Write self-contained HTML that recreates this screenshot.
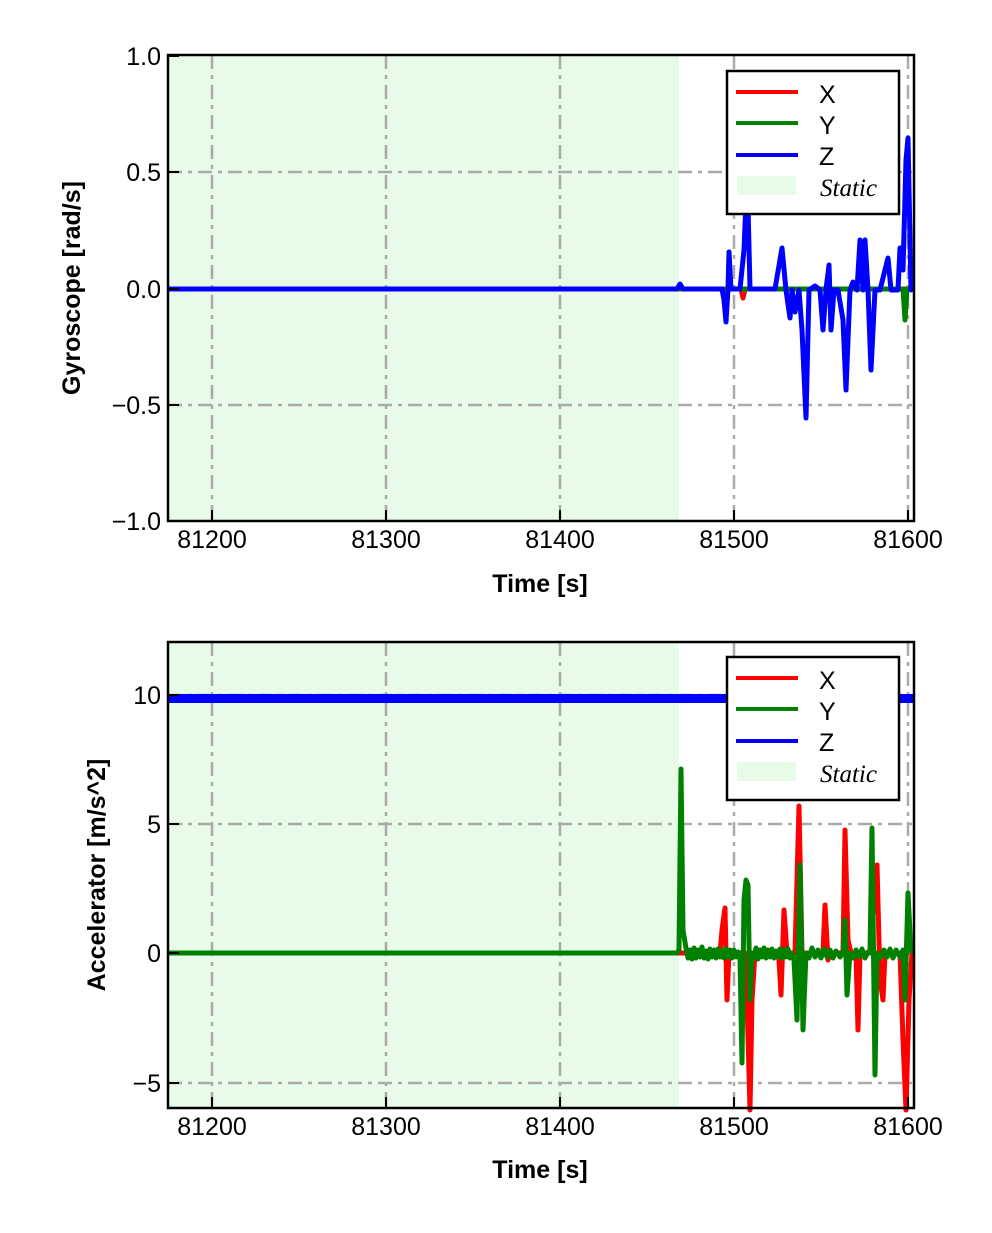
<!DOCTYPE html>
<html><head><meta charset="utf-8"><style>
body{margin:0;background:#fff}
svg text{font-family:"Liberation Sans",sans-serif}
</style></head><body>
<svg width="992" height="1228" viewBox="0 0 992 1228" xmlns="http://www.w3.org/2000/svg">
<!-- ===== TOP PLOT ===== -->
<rect x="168" y="55" width="511" height="466" fill="#e8fbe8"/>
<g stroke="#aaa" stroke-width="2.5" stroke-dasharray="14,6,4,6" fill="none">
<line x1="212" y1="55" x2="212" y2="521"/><line x1="386" y1="55" x2="386" y2="521"/>
<line x1="560" y1="55" x2="560" y2="521"/><line x1="734" y1="55" x2="734" y2="521"/>
<line x1="908" y1="55" x2="908" y2="521"/>
<line x1="168" y1="172" x2="914" y2="172"/><line x1="168" y1="289" x2="914" y2="289"/>
<line x1="168" y1="405" x2="914" y2="405"/>
</g>
<g fill="none" stroke-width="5" stroke-linejoin="round">
<polyline stroke="#f00" points="168,289 741,289 743,298 745,289 914,289"/>
<polyline stroke="#008000" points="168,289 826,289 828,275 830,289 903,289 905,320 907,289 914,289"/>
<polyline stroke="#00f" points="168,289 677,289 680,284 683,289 722,289 724,300 726,322 728,289 729,252 731,289 740,289 744,250 746,200 748,205 750,289 775,289 782,248 786,290 790,318 792,290 795,312 799,290 802,330 806,418 809,290 815,286 820,290 823,330 826,290 829,265 831,330 834,290 838,290 843,320 846,390 850,290 853,282 857,290 860,240 863,290 865,240 868,290 871,370 875,290 880,290 888,258 891,290 898,290 900,248 903,270 906,160 908,138 911,290 914,289"/>
</g>
<rect x="168" y="55" width="746" height="466" fill="none" stroke="#000" stroke-width="2.5"/>
<g stroke="#000" stroke-width="2">
<line x1="212" y1="521" x2="212" y2="510"/><line x1="386" y1="521" x2="386" y2="510"/><line x1="560" y1="521" x2="560" y2="510"/><line x1="734" y1="521" x2="734" y2="510"/><line x1="908" y1="521" x2="908" y2="510"/>
<line x1="168" y1="56" x2="179" y2="56"/><line x1="168" y1="172" x2="179" y2="172"/><line x1="168" y1="289" x2="179" y2="289"/><line x1="168" y1="405" x2="179" y2="405"/><line x1="168" y1="521" x2="179" y2="521"/>
</g>
<g font-size="25" text-anchor="end">
<text x="161" y="65">1.0</text><text x="161" y="181">0.5</text><text x="161" y="298">0.0</text><text x="161" y="414">−0.5</text><text x="161" y="530">−1.0</text>
</g>
<g font-size="25" text-anchor="middle">
<text x="212" y="548">81200</text><text x="386" y="548">81300</text><text x="560" y="548">81400</text><text x="734" y="548">81500</text><text x="908" y="548">81600</text>
</g>
<text x="540" y="592" font-size="25" font-weight="bold" text-anchor="middle">Time [s]</text>
<text transform="translate(80,288) rotate(-90)" font-size="25" font-weight="bold" text-anchor="middle">Gyroscope [rad/s]</text>
<rect x="727" y="71" width="172" height="143" fill="#fff" stroke="#000" stroke-width="2.5"/>
<line x1="736" y1="92" x2="798" y2="92" stroke="#f00" stroke-width="4"/>
<line x1="736" y1="123" x2="798" y2="123" stroke="#008000" stroke-width="4"/>
<line x1="736" y1="155" x2="798" y2="155" stroke="#00f" stroke-width="4"/>
<rect x="737" y="176" width="59" height="19" fill="#e8fbe8"/>
<g font-size="25"><text x="819" y="103">X</text><text x="819" y="134">Y</text><text x="819" y="165">Z</text></g>
<text x="820" y="196" font-size="25" font-style="italic" style="font-family:'Liberation Serif',serif">Static</text>

<!-- ===== BOTTOM PLOT ===== -->
<rect x="168" y="642" width="511" height="466" fill="#e8fbe8"/>
<g stroke="#aaa" stroke-width="2.5" stroke-dasharray="14,6,4,6" fill="none">
<line x1="212" y1="642" x2="212" y2="1108"/><line x1="386" y1="642" x2="386" y2="1108"/>
<line x1="560" y1="642" x2="560" y2="1108"/><line x1="734" y1="642" x2="734" y2="1108"/>
<line x1="908" y1="642" x2="908" y2="1108"/>
<line x1="168" y1="695" x2="914" y2="695"/><line x1="168" y1="824" x2="914" y2="824"/>
<line x1="168" y1="953" x2="914" y2="953"/><line x1="168" y1="1083" x2="914" y2="1083"/>
</g>
<g fill="none" stroke-width="5" stroke-linejoin="round">
<rect x="168" y="694" width="746" height="9" fill="#00f" stroke="none"/>
<polyline stroke="#f00" points="168,953 720,953 722,930 725,908 727,1000 729,953 745,953 747,1000 750,1110 752,1000 755,953 777,953 779,960 781,995 784,910 787,953 795,953 799,806 802,953 823,953 825,905 828,960 830,953 843,953 845,830 848,940 851,953 856,953 858,1030 860,953 870,953 877,865 880,980 883,1000 885,953 900,953 903,1040 906,1110 909,1000 912,953"/>
<polyline stroke="#008000" points="168,953 677,953 679,950 681,769 683,930 686,948 688,958 690,950 692,959 694,948 696,958 698,950 700,957 702,947 704,958 706,951 708,959 710,949 712,957 714,950 716,958 718,949 720,957 722,950 724,958 726,949 728,957 730,950 732,958 734,950 736,957 738,952 740,958 742,1063 744,900 746,880 748,885 750,1000 752,953 754,958 756,948 758,959 760,950 762,957 764,948 766,958 768,950 770,957 772,949 774,958 776,951 778,957 780,949 782,958 784,950 786,957 788,949 790,958 792,953 794,960 797,1020 800,865 803,1030 806,953 809,958 812,948 815,957 818,950 821,958 824,949 827,957 830,950 833,958 836,951 840,957 843,953 845,920 847,995 850,953 853,958 856,950 859,957 862,949 865,958 868,952 870,953 872,828 875,1075 877,953 880,958 884,950 887,957 890,949 893,958 896,950 900,957 903,950 905,1000 908,893 911,953"/>
</g>
<rect x="168" y="642" width="746" height="466" fill="none" stroke="#000" stroke-width="2.5"/>
<g stroke="#000" stroke-width="2">
<line x1="212" y1="1108" x2="212" y2="1097"/><line x1="386" y1="1108" x2="386" y2="1097"/><line x1="560" y1="1108" x2="560" y2="1097"/><line x1="734" y1="1108" x2="734" y2="1097"/><line x1="908" y1="1108" x2="908" y2="1097"/>
<line x1="168" y1="695" x2="179" y2="695"/><line x1="168" y1="824" x2="179" y2="824"/><line x1="168" y1="953" x2="179" y2="953"/><line x1="168" y1="1083" x2="179" y2="1083"/>
</g>
<g font-size="25" text-anchor="end">
<text x="161" y="704">10</text><text x="161" y="833">5</text><text x="161" y="962">0</text><text x="161" y="1092">−5</text>
</g>
<g font-size="25" text-anchor="middle">
<text x="212" y="1135">81200</text><text x="386" y="1135">81300</text><text x="560" y="1135">81400</text><text x="734" y="1135">81500</text><text x="908" y="1135">81600</text>
</g>
<text x="540" y="1178" font-size="25" font-weight="bold" text-anchor="middle">Time [s]</text>
<text transform="translate(105,875) rotate(-90)" font-size="25" font-weight="bold" text-anchor="middle">Accelerator [m/s^2]</text>
<rect x="727" y="657" width="172" height="143" fill="#fff" stroke="#000" stroke-width="2.5"/>
<line x1="736" y1="678" x2="798" y2="678" stroke="#f00" stroke-width="4"/>
<line x1="736" y1="709" x2="798" y2="709" stroke="#008000" stroke-width="4"/>
<line x1="736" y1="741" x2="798" y2="741" stroke="#00f" stroke-width="4"/>
<rect x="737" y="762" width="59" height="19" fill="#e8fbe8"/>
<g font-size="25"><text x="819" y="689">X</text><text x="819" y="720">Y</text><text x="819" y="751">Z</text></g>
<text x="820" y="782" font-size="25" font-style="italic" style="font-family:'Liberation Serif',serif">Static</text>
</svg>
</body></html>
